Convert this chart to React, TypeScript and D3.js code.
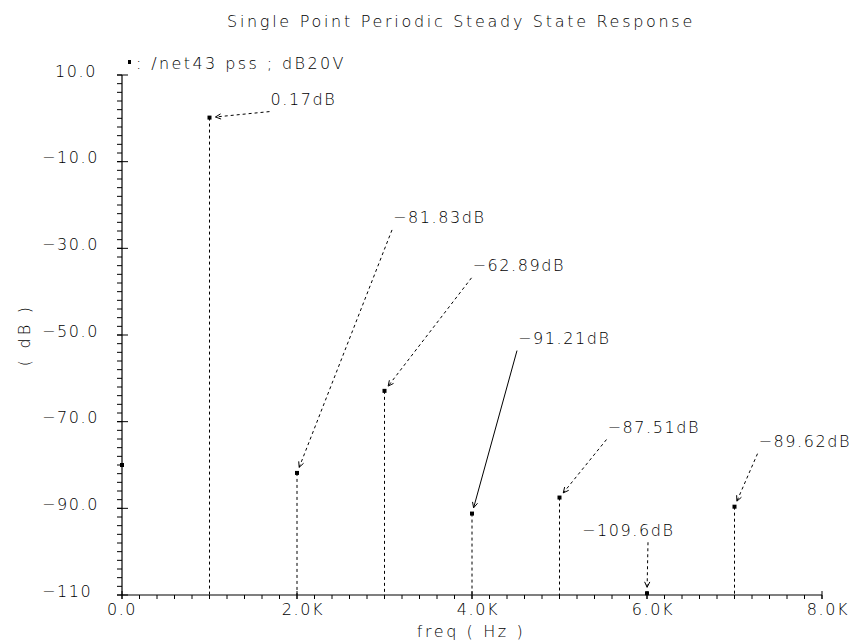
import React from 'react';
import * as d3 from 'd3';

// ---- data ----
const freqs = [0, 1000, 2000, 3000, 4000, 5000, 6000, 7000];
const levels = [-80, 0.17, -81.83, -62.89, -91.21, -87.51, -109.6, -89.62];
const valueLabels = ['', '0.17dB', '−81.83dB', '−62.89dB', '−91.21dB', '−87.51dB', '−109.6dB', '−89.62dB'];
const yMajorTicks = [10, -10, -30, -50, -70, -90, -110];
const yTickLabels = ['10.0', '−10.0', '−30.0', '−50.0', '−70.0', '−90.0', '−110'];
const xMajorTicks = [0, 2000, 4000, 6000, 8000];
const xTickLabels = ['0.0', '2.0K', '4.0K', '6.0K', '8.0K'];
const title = 'Single Point Periodic Steady State Response';
const legendText = ': /net43 pss ; dB20V';

// ---- layout (label offsets relative to point, px) ----
const labelDx = [0, 61, 96, 88, 46, 48, -65, 24];
const labelDy = [0, -18, -255, -125, -175, -70, -63, -65];
const leaderFromPoint = [false, false, false, false, false, false, true, false];
const leaderSolid = [false, false, false, false, true, false, false, false];

const W = 855, H = 643;
const FONT = '"DejaVu Sans", sans-serif';

export default function App() {
  const x = d3.scaleLinear().domain([0, 8000]).range([122, 822]);
  const y = d3.scaleLinear().domain([-110, 10]).range([595, 75]);
  const x0 = x(0), y0 = y(-110);

  const textStyle: React.CSSProperties = {
    fontFamily: FONT,
    fontSize: 16,
    fontWeight: 200,
    letterSpacing: 1.6,
    fill: '#000',
  } as any;
  const wide = (ls: number): React.CSSProperties => ({ ...textStyle, letterSpacing: ls });

  const yMinor = d3.range(-110, 10.001, 2);
  const xMinor = d3.range(0, 8000.1, 200);

  const annotations = freqs.map((f, i) => {
    if (!valueLabels[i]) return null;
    const px = x(f), py = y(levels[i]);
    const tx = px + labelDx[i], ty = py + labelDy[i];
    const sx = leaderFromPoint[i] ? px + 1 : tx - 1;
    const sy = ty + 12;
    const vx = sx - px, vy = sy - py;
    const len = Math.hypot(vx, vy);
    const ux = vx / len, uy = vy / len;
    const tipX = px + ux * 6, tipY = py + uy * 6;
    const ang = Math.atan2(uy, ux);
    const a1 = ang + 0.45, a2 = ang - 0.45;
    const head = `M${tipX + Math.cos(a1) * 6},${tipY + Math.sin(a1) * 6}L${tipX},${tipY}L${tipX + Math.cos(a2) * 6},${tipY + Math.sin(a2) * 6}`;
    return (
      <g key={'a' + i}>
        <text x={tx} y={ty} dominantBaseline="central" style={textStyle}>{valueLabels[i]}</text>
        <line x1={sx} y1={sy} x2={tipX} y2={tipY} stroke="#000" strokeWidth={1}
          strokeDasharray={leaderSolid[i] ? undefined : '3,3'} />
        <path d={head} fill="none" stroke="#000" strokeWidth={1} />
      </g>
    );
  });

  return (
    <svg width={W} height={H} style={{ position: 'absolute', left: 0, top: 0, background: '#fff' }}>
      <rect x={0} y={0} width={W} height={H} fill="#fff" />
      <text x={461} y={21} textAnchor="middle" dominantBaseline="central" style={wide(2.7)}>{title}</text>

      {/* legend */}
      <rect x={128} y={60} width={3} height={4} fill="#000" />
      <text x={136} y={63} dominantBaseline="central" style={wide(2.4)}>{legendText}</text>

      {/* axes */}
      <line x1={x0} y1={y(10)} x2={x0} y2={y0} stroke="#000" strokeWidth={1.2} />
      <line x1={x0} y1={y0} x2={x(8000)} y2={y0} stroke="#000" strokeWidth={1.2} />
      {yMinor.map((v) => (
        <line key={'ym' + v} x1={x0 - 5} x2={x0} y1={y(v)} y2={y(v)} stroke="#000" strokeWidth={1} />
      ))}
      {yMajorTicks.map((v, i) => (
        <g key={'yM' + v}>
          <line x1={x0 - 5} x2={x0 + 6} y1={y(v)} y2={y(v)} stroke="#000" strokeWidth={1} />
          <text x={yTickLabels[i].startsWith('−') ? 42 : 97} y={y(v) - 4}
            textAnchor={yTickLabels[i].startsWith('−') ? 'start' : 'end'}
            dominantBaseline="central" style={textStyle}>{yTickLabels[i]}</text>
        </g>
      ))}
      {xMinor.map((v) => (
        <line key={'xm' + v} x1={x(v)} x2={x(v)} y1={y0} y2={y0 + 4} stroke="#000" strokeWidth={1} />
      ))}
      {xMajorTicks.map((v, i) => (
        <g key={'xM' + v}>
          <line x1={x(v)} x2={x(v)} y1={y0 - 4} y2={y0 + 4} stroke="#000" strokeWidth={1} />
          <text x={x(v) + (i === 0 ? 0 : 6)} y={y0 + 14} textAnchor="middle"
            dominantBaseline="central" style={textStyle}>{xTickLabels[i]}</text>
        </g>
      ))}

      <text x={471} y={631} textAnchor="middle" dominantBaseline="central" style={wide(2.6)}>freq ( Hz )</text>
      <text transform={`translate(24,335) rotate(-90)`} textAnchor="middle" dominantBaseline="central" style={wide(3.2)}>( dB )</text>

      {/* stems and points */}
      {freqs.map((f, i) => (
        <g key={'s' + i}>
          {f > 0 && (
            <line x1={x(f)} x2={x(f)} y1={y(levels[i])} y2={y0} stroke="#000" strokeWidth={1} strokeDasharray="3,3" />
          )}
          <rect x={x(f) - 2} y={y(levels[i]) - 2} width={4} height={4} fill="#000" />
        </g>
      ))}

      {annotations}
    </svg>
  );
}
